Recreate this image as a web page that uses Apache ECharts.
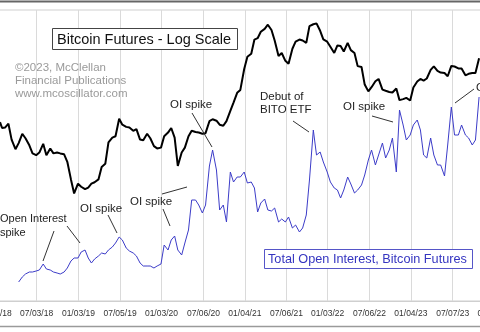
<!DOCTYPE html>
<html><head><meta charset="utf-8">
<script src="https://cdn.jsdelivr.net/npm/echarts@6/dist/echarts.min.js"></script>
<style>html,body{margin:0;padding:0;background:#fff}#c{width:480px;height:332px}</style>
</head><body><div id="c"></div>
<script>
const dates = [
'2018-01-23','2018-02-01','2018-02-15','2018-03-01','2018-03-15','2018-04-01','2018-04-15','2018-05-01','2018-05-15','2018-06-01','2018-06-15','2018-07-01','2018-07-15','2018-08-01','2018-08-15','2018-09-01','2018-09-15','2018-10-01','2018-10-15','2018-11-01','2018-11-15','2018-12-01','2018-12-15',
'2019-01-01','2019-01-15','2019-02-01','2019-02-15','2019-03-01','2019-03-15','2019-04-01','2019-04-15','2019-05-01','2019-05-15','2019-06-01','2019-06-15','2019-07-01','2019-07-15','2019-08-01','2019-08-15','2019-09-01','2019-09-15','2019-10-01','2019-10-15','2019-11-01','2019-11-15','2019-12-01','2019-12-15',
'2020-01-01','2020-01-15','2020-02-01','2020-02-15','2020-03-01','2020-03-15','2020-04-01','2020-04-15','2020-05-01','2020-05-15','2020-06-01','2020-06-15','2020-07-01','2020-07-15','2020-08-01','2020-08-15','2020-09-01','2020-09-15','2020-10-01','2020-10-15','2020-11-01','2020-11-15','2020-12-01','2020-12-15',
'2021-01-01','2021-01-15','2021-02-01','2021-02-15','2021-03-01','2021-03-15','2021-04-01','2021-04-15','2021-05-01','2021-05-15','2021-06-01','2021-06-15','2021-07-01','2021-07-15','2021-08-01','2021-08-15','2021-09-01','2021-09-15','2021-10-01','2021-10-15','2021-11-01','2021-11-15','2021-12-01','2021-12-15',
'2022-01-01','2022-01-15','2022-02-01','2022-02-15','2022-03-01','2022-03-15','2022-04-01','2022-04-15','2022-05-01','2022-05-15','2022-06-01','2022-06-15','2022-07-01','2022-07-15','2022-08-01','2022-08-15','2022-09-01','2022-09-15','2022-10-01','2022-10-15','2022-11-01','2022-11-15','2022-12-01','2022-12-15',
'2023-01-01','2023-01-15','2023-02-01','2023-02-15','2023-03-01','2023-03-15','2023-04-01','2023-04-15','2023-05-01','2023-05-15','2023-06-01','2023-06-15','2023-07-01','2023-07-15','2023-08-01','2023-08-15','2023-09-01','2023-09-15','2023-10-01','2023-10-15','2023-10-31'
];

// Bitcoin futures price (USD), log scale
const btcPrice = [
11300,10200,10300,11000,8300,7000,7800,9200,8500,7500,6500,6300,6600,7700,6300,7100,6500,6600,6500,6400,5600,4100,3200,
3800,3600,3450,3550,3800,3900,4100,5100,5400,7900,8600,8800,12000,10800,10400,10300,9700,10000,8300,8200,9200,8500,7400,7100,
7200,8800,9400,10200,8600,5200,6600,7200,8800,9700,9500,9400,9200,9300,11500,11900,11600,10800,10600,11500,13800,16000,19000,20000,
29000,36000,38000,48800,50000,56000,59000,63500,57800,48000,36500,38500,33500,31800,41500,47000,48800,48000,46000,62000,64000,65000,57000,49000,
47000,43000,38500,44000,43500,39500,46000,40500,38500,30500,30000,22000,19500,21000,23300,24300,20100,19700,19300,19100,20500,16700,17000,17400,
16600,20900,23200,24300,23600,24500,28500,30400,28000,27200,27000,25500,30600,30300,29300,29200,25900,26600,27000,27000,35000
];

// Total open interest, bitcoin futures (contracts)
const openInterest = [
null,null,null,null,null,null,1900,2400,2700,2900,2900,3000,3100,3700,3200,3100,2900,2800,2700,2900,3300,4000,4300,
4300,4900,5100,4300,3800,4200,4500,4800,4700,5100,5400,5800,6400,6100,5300,5000,4800,4500,3800,3500,3500,3500,3300,3500,
3700,5600,5100,6100,6500,5100,4600,5800,7100,10100,10100,9600,8800,9600,13500,15100,13100,9100,9600,7900,12900,11900,12400,12400,
12900,11800,11900,11300,8900,9800,10200,9100,9000,9300,7900,8200,7900,8400,7300,7600,6900,7300,8600,12100,17100,14600,14900,13900,
12900,11900,11300,11100,10300,11100,12400,11700,10800,11100,11600,12600,14100,15100,13600,14600,15800,14300,15100,16300,12900,19100,17600,16100,
16600,17600,18100,17100,14600,14300,16300,14600,13600,13600,12500,15600,19400,16600,16600,17600,16600,16300,15600,16100,20400
];

const tickDates = ['2018-01-02','2018-07-03','2019-01-03','2019-07-05','2020-01-03','2020-07-06','2021-01-04','2021-07-06','2022-01-03','2022-07-06','2023-01-04','2023-07-07','2024-01-05'];
const tickLabels = ['01/02/18','07/03/18','01/03/19','07/05/19','01/03/20','07/06/20','01/04/21','07/06/21','01/03/22','07/06/22','01/04/23','07/07/23','01/05/24'];

const t = s => echarts.time.parse(s).getTime();
const tickTimes = tickDates.map(t);
const FONT = '"Liberation Sans", Arial, sans-serif';

const chart = echarts.init(document.getElementById('c'), null, {renderer: 'canvas'});

const txt = (x, y, text, size, fill) => ({
  type: 'text', x: x, y: y, z: 100,
  style: {text: text, fill: fill || '#222', font: size + 'px ' + FONT, align: 'left', verticalAlign: 'middle'}
});
const seg = (x1, y1, x2, y2, color) => ({
  type: 'line', z: 100, shape: {x1: x1, y1: y1, x2: x2, y2: y2},
  style: {stroke: color || '#333', lineWidth: 1}
});

chart.setOption({
  animation: false,
  backgroundColor: '#fff',
  grid: {left: -20, right: -30, top: 10, bottom: 31, show: true, borderColor: '#cfcfcf', borderWidth: 1, backgroundColor: '#fff', containLabel: false, outerBoundsMode: 'none'},
  xAxis: {
    type: 'value',
    min: t('2017-10-27'), max: t('2024-03-15'),
    axisLine: {show: true, onZero: false, lineStyle: {color: '#cfcfcf', width: 1}},
    axisTick: {show: false, customValues: tickTimes},
    splitLine: {show: true, lineStyle: {color: '#dadada', width: 1}},
    axisLabel: {
      customValues: tickTimes,
      formatter: v => { const i = tickTimes.indexOf(v); return i >= 0 ? tickLabels[i] : ''; },
      fontSize: 8.5, fontFamily: FONT, color: '#333', margin: 8, hideOverlap: false
    }
  },
  yAxis: [
    {type: 'log', logBase: 10, min: 476, max: 82400, show: false, splitLine: {show: false}},
    {type: 'value', min: 0, max: 29100, show: false, splitLine: {show: false}}
  ],
  series: [
    {
      name: 'Total Open Interest, Bitcoin Futures', type: 'line', yAxisIndex: 1,
      data: dates.map((d, i) => [t(d), openInterest[i]]),
      showSymbol: false, connectNulls: false,
      lineStyle: {color: '#3c3cc8', width: 1}, z: 3
    },
    {
      name: 'Bitcoin Futures - Log Scale', type: 'line', yAxisIndex: 0,
      data: dates.map((d, i) => [t(d), btcPrice[i]]),
      showSymbol: false,
      lineStyle: {color: '#000', width: 2}, z: 4
    }
  ],
  graphic: [
    {type: 'line', z: 100, shape: {x1: 0, y1: 1.5, x2: 480, y2: 1.5}, style: {stroke: '#666', lineWidth: 2}},
    {type: 'line', z: 100, shape: {x1: 0, y1: 326.5, x2: 480, y2: 326.5}, style: {stroke: '#9a9a9a', lineWidth: 1.5}},
    {type: 'rect', z: 100, shape: {x: 52.5, y: 28.5, width: 185, height: 21}, style: {fill: '#fff', stroke: '#444', lineWidth: 1}},
    txt(57, 39.5, 'Bitcoin Futures - Log Scale', 14.5, '#111'),
    {type: 'text', z: 100, x: 15, y: 61.5, style: {text: '©2023, McClellan\nFinancial Publications\nwww.mcoscillator.com', fill: '#9a9a9a', font: '11.5px ' + FONT, verticalAlign: 'top', lineHeight: 13}},
    {type: 'rect', z: 100, shape: {x: 264.5, y: 249.5, width: 208, height: 19}, style: {fill: '#fff', stroke: '#5555c8', lineWidth: 1}},
    txt(268, 259, 'Total Open Interest, Bitcoin Futures', 12.7, '#3535c0'),
    {type: 'text', z: 100, x: 0, y: 212, style: {text: 'Open Interest\nspike', fill: '#222', font: '11px ' + FONT, verticalAlign: 'top', lineHeight: 14}},
    seg(54, 231, 43, 261), seg(67, 226, 80, 243),
    txt(80, 209, 'OI spike', 11.5), seg(108, 215, 117, 233),
    txt(130, 202, 'OI spike', 11.5), seg(162, 194, 187, 187), seg(163, 209, 170, 226),
    txt(170, 105, 'OI spike', 11.5), seg(192, 113, 212, 147),
    {type: 'text', z: 100, x: 260, y: 90.5, style: {text: 'Debut of\nBITO ETF', fill: '#222', font: '11.5px ' + FONT, verticalAlign: 'top', lineHeight: 13}},
    seg(293, 121, 309, 132),
    txt(343, 107, 'OI spike', 11.5), seg(372, 116, 393, 122),
    txt(476, 88, 'OI spike', 11.5), seg(455, 103, 474, 89)
  ]
});
</script>
</body></html>
